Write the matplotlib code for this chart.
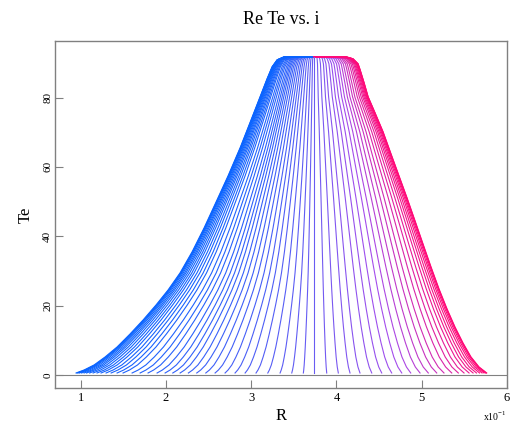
import numpy as np
import matplotlib.pyplot as plt
from matplotlib.colors import LinearSegmentedColormap

# centre of the profiles (R, x10^-1)
r_center = 3.741

# outer envelope, left side (R, Te)
env_left_r = [0.947, 1.041, 1.158, 1.287, 1.428, 1.580, 1.733, 1.885, 2.026, 2.166,
              2.307, 2.448, 2.589, 2.729, 2.870, 2.999, 3.104, 3.186, 3.245, 3.304,
              3.386, 3.741]
env_left_te = [0.58, 1.44, 2.89, 5.19, 8.08, 11.83, 15.87, 20.20, 24.52, 29.43,
               35.49, 42.41, 49.91, 57.41, 65.49, 73.57, 80.20, 85.40, 88.86, 90.88,
               91.75, 91.75]

# outer envelope, right side (R, Te)
env_right_r = [3.741, 4.113, 4.195, 4.254, 4.278, 4.325, 4.372, 4.453, 4.547, 4.640,
               4.734, 4.828, 4.922, 5.015, 5.109, 5.203, 5.297, 5.390, 5.484, 5.578,
               5.672, 5.762]
env_right_te = [91.75, 91.75, 91.17, 89.73, 88.0, 84.24, 80.20, 75.59, 70.11, 63.76,
                57.41, 51.07, 44.43, 37.80, 31.16, 24.81, 19.04, 13.85, 9.23, 5.19,
                2.31, 0.58]

# end points of each profile at the bottom
feet_left = [3.612, 3.476, 3.339, 3.195, 3.057, 2.929, 2.811, 2.694, 2.577, 2.468,
             2.362, 2.264, 2.167, 2.081, 1.991, 1.897, 1.791, 1.698, 1.604, 1.498,
             1.428, 1.358, 1.299, 1.240, 1.193, 1.147, 1.106, 1.070, 1.041, 1.012,
             0.988, 0.971, 0.959, 0.947]
feet_right = [3.886, 4.022, 4.159, 4.276, 4.414, 4.531, 4.648, 4.766, 4.871, 4.980,
              5.077, 5.176, 5.261, 5.352, 5.429, 5.496, 5.555, 5.602, 5.642, 5.678,
              5.707, 5.730, 5.748, 5.757, 5.762]

xticks = [1, 2, 3, 4, 5, 6]
yticks = [0, 20, 40, 60, 80]

serif = ['Liberation Serif', 'DejaVu Serif']
grey = '#808080'

cmap = LinearSegmentedColormap.from_list(
    'bm', [(0.0, '#0a64ff'), (0.58, '#6a5cf2'), (0.8, '#a54cec'), (1.0, '#ff0a78')])

fig = plt.figure(figsize=(5.16, 4.26), dpi=100)
ax = fig.add_axes([0.1066, 0.0892, 0.876, 0.8153])

lo, hi = min(feet_left), max(feet_right)
el_r = np.array(env_left_r)
er_r = np.array(env_right_r)


def draw_half(foot, env_r, env_te, outer):
    # profile squeezed towards the centre so that it ends at its foot
    s = (foot - r_center) / (outer - r_center)
    x = r_center + s * (env_r - r_center)
    t = (foot - lo) / (hi - lo)
    ax.plot(x, env_te, color=cmap(t), lw=0.8)


for f in feet_left:
    draw_half(f, el_r, env_left_te, feet_left[-1])
for f in feet_right:
    draw_half(f, er_r, env_right_te, feet_right[-1])
ax.plot([r_center, r_center], [env_left_te[0], env_left_te[-1]],
        color=cmap((r_center - lo) / (hi - lo)), lw=0.8)

ax.axhline(0, color=grey, lw=0.8)
ax.set_xlim(0.70, 6.0)
ax.set_ylim(-3.75, 96.4)
ax.set_xticks(xticks)
ax.set_xticklabels([str(v) for v in xticks], family=serif, fontsize=9)
ax.set_yticks(yticks)
ax.set_yticklabels([str(v) for v in yticks], family=serif, fontsize=8, rotation=90, va='center')
ax.tick_params(direction='in', length=6, color=grey, width=0.8, pad=3)
ax.tick_params(axis='y', pad=2)
for sp in ax.spines.values():
    sp.set_color(grey)
    sp.set_linewidth(1.0)

ax.set_title('Re Te vs. i', family=serif, fontsize=13, pad=12)
ax.set_xlabel('R', family=serif, fontsize=12)
ax.set_ylabel('Te', family=serif, fontsize=12)
ax.xaxis.set_label_coords(0.5, -0.058)
ax.yaxis.set_label_coords(-0.047, 0.5)
fig.text(0.937, 0.012, r'x10$^{\mathregular{-1}}$', family=serif, fontsize=7)

fig.savefig('out.png', dpi=100)
